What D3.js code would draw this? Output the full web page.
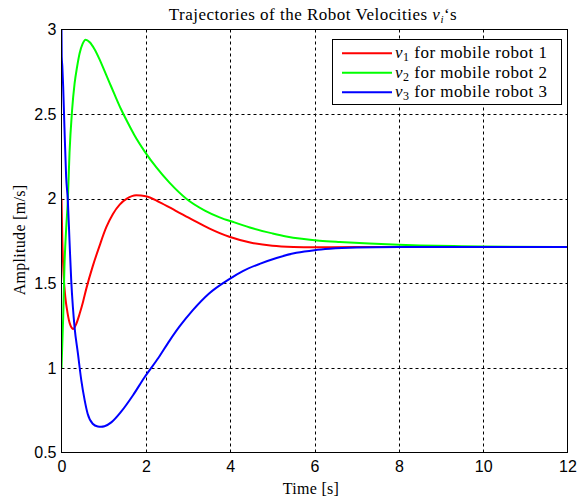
<!DOCTYPE html>
<html><head><meta charset="utf-8">
<script src="https://cdn.jsdelivr.net/npm/d3@7"></script>
<style>body{margin:0;background:#fff}</style>
</head><body><svg id="chart" width="578" height="501"></svg>
<script>
// ---- data ----
const xTicks = [0, 2, 4, 6, 8, 10, 12];
const yTicks = [0.5, 1, 1.5, 2, 2.5, 3];
const xTickLabels = ["0", "2", "4", "6", "8", "10", "12"];
const yTickLabels = ["0.5", "1", "1.5", "2", "2.5", "3"];

const t1 = [0, 0.02, 0.05, 0.09, 0.14, 0.2, 0.28, 0.35, 0.43, 0.51, 0.59, 0.74, 0.9, 1.06, 1.22, 1.38, 1.55, 1.77, 2.0, 2.32, 2.7, 3.11, 3.5, 3.98, 4.5, 5.0, 5.5, 6.0, 7.0, 8.0, 10.0, 12.0];
const v1 = [2.0, 1.75, 1.55, 1.42, 1.33, 1.26, 1.23, 1.26, 1.32, 1.39, 1.47, 1.60, 1.72, 1.83, 1.91, 1.965, 2.0, 2.02, 2.015, 1.98, 1.93, 1.875, 1.825, 1.775, 1.74, 1.722, 1.715, 1.713, 1.714, 1.715, 1.715, 1.715];

const t2 = [0, 0.02, 0.04, 0.07, 0.11, 0.15, 0.19, 0.25, 0.31, 0.37, 0.43, 0.5, 0.57, 0.67, 0.78, 0.9, 1.02, 1.14, 1.26, 1.41, 1.57, 1.73, 1.97, 2.25, 2.56, 2.96, 3.4, 3.75, 4.1, 4.53, 5.0, 5.33, 5.7, 6.12, 6.6, 7.3, 8.0, 8.5, 9.3, 10, 12];
const v2 = [1.0, 1.15, 1.3, 1.6, 1.82, 1.99, 2.27, 2.52, 2.68, 2.78, 2.86, 2.915, 2.94, 2.925, 2.885, 2.825, 2.755, 2.685, 2.615, 2.53, 2.45, 2.375, 2.28, 2.185, 2.095, 2.0, 1.93, 1.89, 1.86, 1.825, 1.795, 1.777, 1.763, 1.752, 1.744, 1.735, 1.728, 1.724, 1.72, 1.717, 1.715];

const t3 = [0, 0.005, 0.02, 0.04, 0.07, 0.11, 0.15, 0.19, 0.23, 0.27, 0.31, 0.39, 0.47, 0.55, 0.62, 0.74, 0.86, 0.94, 1.02, 1.18, 1.41, 1.7, 1.97, 2.3, 2.56, 2.8, 3.11, 3.5, 3.98, 4.3, 4.7, 5.1, 5.57, 6.0, 6.36, 7.0, 8.0, 10.0, 12.0];
const v3 = [3.0, 2.84, 2.78, 2.66, 2.42, 2.13, 1.99, 1.75, 1.52, 1.36, 1.24, 1.084, 0.926, 0.808, 0.729, 0.67, 0.654, 0.652, 0.655, 0.678, 0.74, 0.84, 0.945, 1.06, 1.16, 1.245, 1.34, 1.44, 1.525, 1.572, 1.615, 1.65, 1.68, 1.696, 1.704, 1.711, 1.714, 1.715, 1.715];

const seriesColors = ["#ff0000", "#00ff00", "#0000ff"];
const seriesSub = ["1", "2", "3"];
const seriesText = [" for mobile robot 1", " for mobile robot 2", " for mobile robot 3"];

// ---- drawing ----
const svg = d3.select("#chart");
const x = d3.scaleLinear().domain([0, 12]).range([61.5, 567.5]);
const y = d3.scaleLinear().domain([0.5, 3]).range([452.5, 29.5]);
const serif = "'Liberation Serif', 'Times New Roman', serif";
const sans = "'Liberation Sans', Arial, sans-serif";

svg.append("rect").attr("width", 578).attr("height", 501).attr("fill", "#fff");

// grid
const g = svg.append("g");
xTicks.filter(d => d > 0 && d < 12).forEach(d => {
  const px = Math.round(x(d)) + 0.5;
  g.append("line").attr("x1", px).attr("x2", px).attr("y1", y(3)).attr("y2", y(0.5))
    .attr("stroke", "#000").attr("stroke-width", 1).attr("stroke-dasharray", "3,3");
});
yTicks.filter(d => d > 0.5 && d < 3).forEach(d => {
  const py = Math.round(y(d)) + 0.5;
  g.append("line").attr("x1", x(0)).attr("x2", x(12)).attr("y1", py).attr("y2", py)
    .attr("stroke", "#000").attr("stroke-width", 1).attr("stroke-dasharray", "3,3");
});

// clip
svg.append("clipPath").attr("id", "clip").append("rect")
  .attr("x", x(0)).attr("y", y(3)).attr("width", x(12) - x(0)).attr("height", y(0.5) - y(3));

const line = d3.line().x(d => x(d[0])).y(d => y(d[1])).curve(d3.curveMonotoneX);
const series = [d3.zip(t1, v1), d3.zip(t2, v2), d3.zip(t3, v3)];
series.forEach((s, i) => {
  svg.append("path").attr("d", line(s)).attr("fill", "none")
    .attr("stroke", seriesColors[i]).attr("stroke-width", 2).attr("clip-path", "url(#clip)");
});

// axes box
svg.append("rect").attr("x", x(0)).attr("y", y(3)).attr("width", x(12) - x(0)).attr("height", y(0.5) - y(3))
  .attr("fill", "none").attr("stroke", "#000").attr("stroke-width", 1);

// tick labels via d3 axes (no lines)
const xAxis = svg.append("g").attr("transform", `translate(0,${y(0.5)})`)
  .call(d3.axisBottom(x).tickValues(xTicks).tickFormat((d, i) => xTickLabels[i]).tickSize(0).tickPadding(8));
const yAxis = svg.append("g").attr("transform", `translate(${x(0)},0)`)
  .call(d3.axisLeft(y).tickValues(yTicks).tickFormat((d, i) => yTickLabels[i]).tickSize(0).tickPadding(5));
[xAxis, yAxis].forEach(a => {
  a.select(".domain").remove();
  a.selectAll("text").attr("font-family", sans).attr("font-size", 16).attr("fill", "#000");
});

// title
const title = svg.append("text").attr("x", 313).attr("y", 20).attr("text-anchor", "middle")
  .attr("font-family", serif).attr("font-size", 17).attr("letter-spacing", 0.5).attr("fill", "#000");
title.append("tspan").text("Trajectories of the Robot Velocities ");
title.append("tspan").attr("font-style", "italic").text("v");
title.append("tspan").attr("font-size", 11).attr("font-style", "italic").attr("dy", 3).text("i");
title.append("tspan").attr("dy", -3).text("\u2018s");

// axis labels
svg.append("text").attr("x", 311).attr("y", 494).attr("text-anchor", "middle")
  .attr("font-family", serif).attr("font-size", 16).attr("letter-spacing", 0.3).attr("fill", "#000").text("Time [s]");
svg.append("text").attr("transform", "translate(25,240) rotate(-90)").attr("text-anchor", "middle")
  .attr("font-family", serif).attr("font-size", 16).attr("letter-spacing", 0.3).attr("fill", "#000").text("Amplitude [m/s]");

// legend
const lg = svg.append("g");
lg.append("rect").attr("x", 332.5).attr("y", 39.5).attr("width", 229).attr("height", 65)
  .attr("fill", "#fff").attr("stroke", "#000").attr("stroke-width", 1);
const rowY = [53.3, 72.7, 92.3];
seriesColors.forEach((c, i) => {
  lg.append("line").attr("x1", 342).attr("x2", 392).attr("y1", rowY[i]).attr("y2", rowY[i])
    .attr("stroke", c).attr("stroke-width", 2);
  const t = lg.append("text").attr("x", 395).attr("y", rowY[i] + 5)
    .attr("font-family", serif).attr("font-size", 17).attr("letter-spacing", 0.5).attr("fill", "#000");
  t.append("tspan").attr("font-style", "italic").text("v");
  t.append("tspan").attr("font-size", 12).attr("dy", 3).text(seriesSub[i]);
  t.append("tspan").attr("dy", -3).text(seriesText[i]);
});
</script></body></html>
